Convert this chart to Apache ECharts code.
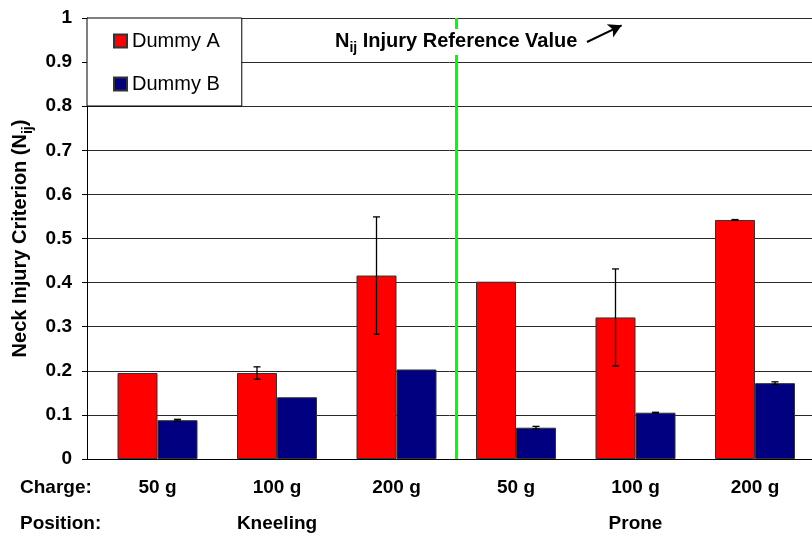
<!DOCTYPE html>
<html>
<head>
<meta charset="utf-8">
<script src="https://cdn.jsdelivr.net/npm/echarts@6/dist/echarts.min.js"></script>
<style>html,body{margin:0;padding:0;background:#fff;}#c{width:812px;height:537px;}</style>
</head>
<body>
<div id="c"></div>
<script>
// ---- data ----
const charges = ['50 g', '100 g', '200 g', '50 g', '100 g', '200 g'];
const positions = ['Kneeling', 'Prone'];
const groupSize = 3;
const dummyA = [0.195, 0.195, 0.416, 0.402, 0.321, 0.542];
const dummyAErr = [0, 0.014, 0.133, 0, 0.110, 0.001];
const dummyB = [0.088, 0.140, 0.203, 0.071, 0.105, 0.172];
const dummyBErr = [0.002, 0, 0, 0.003, 0.001, 0.003];
const yTicks = [0, 0.1, 0.2, 0.3, 0.4, 0.5, 0.6, 0.7, 0.8, 0.9, 1];

// ---- fonts ----
function hasFont(name) {
  const ctx = document.createElement('canvas').getContext('2d');
  const s = 'Charge: Position 50 g Kneeling';
  ctx.font = 'bold 40px monospace';
  const a = ctx.measureText(s).width;
  ctx.font = 'bold 40px "' + name + '", monospace';
  const b = ctx.measureText(s).width;
  return Math.abs(a - b) > 0.5;
}
const SANS = '"Liberation Sans", Arial, sans-serif';
const narrowOK = hasFont('Liberation Sans Narrow');
const XF = narrowOK ? '"Liberation Sans Narrow", ' + SANS : SANS;
const XS = narrowOK ? 23 : 19;

const idx = charges.map((_, i) => i);
const posIdx = positions.map((_, g) => g * groupSize + (groupSize - 1) / 2);
const HALF = 20; // half bar width in px

function errSeries(name, vals, errs, dir, extra) {
  return Object.assign({
    type: 'custom', name: name, z: 5, silent: true,
    data: vals.map((v, i) => [i, v - errs[i], v + errs[i]]).filter((d, i) => errs[i] > 0),
    encode: { x: 0, y: [1, 2] },
    renderItem: function (params, api) {
      const lo = api.coord([api.value(0), api.value(1)]);
      const hi = api.coord([api.value(0), api.value(2)]);
      const x = lo[0] + dir * HALF;
      const cw = 3.5;
      const st = { stroke: '#000', lineWidth: 1.3 };
      return { type: 'group', children: [
        { type: 'line', shape: { x1: x, y1: lo[1], x2: x, y2: hi[1] }, style: st },
        { type: 'line', shape: { x1: x - cw, y1: lo[1], x2: x + cw, y2: lo[1] }, style: st },
        { type: 'line', shape: { x1: x - cw, y1: hi[1], x2: x + cw, y2: hi[1] }, style: st }
      ] };
    }
  }, extra || {});
}

const xMin = -0.59, xMax = 5.477;
const chart = echarts.init(document.getElementById('c'), null, { renderer: 'canvas' });
const option = {
  animation: false,
  backgroundColor: '#fff',
  textStyle: { fontFamily: SANS },
  grid: { left: 87, right: 0, top: 18, bottom: 78 },
  title: {
    text: '{n|N}{s|ij}{n| Injury Reference Value}',
    left: 331, top: 25, padding: [2, 4, 0, 4], backgroundColor: '#fff',
    textStyle: { rich: {
      n: { fontFamily: SANS, fontWeight: 'bold', fontSize: 20, color: '#000', lineHeight: 28 },
      s: { fontFamily: SANS, fontWeight: 'bold', fontSize: 14, color: '#000', lineHeight: 28, verticalAlign: 'bottom' }
    } }
  },
  legend: {
    data: ['Dummy A', 'Dummy B'],
    orient: 'vertical', left: 87, top: 18,
    padding: [13, 22, 12, 26], itemGap: 23,
    itemWidth: 13, itemHeight: 13, icon: 'rect',
    borderColor: '#000', borderWidth: 1, backgroundColor: '#fff',
    textStyle: { fontFamily: SANS, fontSize: 20, color: '#000', padding: [0, 0, 0, 0] }
  },
  xAxis: [{
    type: 'value', min: xMin, max: xMax, position: 'bottom',
    axisLine: { show: true, onZero: false, lineStyle: { color: '#000', width: 1 } },
    axisTick: { show: false }, splitLine: { show: false },
    axisLabel: {
      customValues: idx, margin: 29, verticalAlign: 'middle',
      formatter: v => charges[Math.round(v)],
      fontFamily: XF, fontWeight: 'bold', fontSize: XS, color: '#000'
    }
  }, {
    type: 'value', min: xMin, max: xMax, position: 'bottom', offset: 36,
    axisLine: { show: false }, axisTick: { show: false }, splitLine: { show: false },
    axisLabel: {
      customValues: posIdx, margin: 29, verticalAlign: 'middle',
      formatter: v => positions[Math.round((v - (groupSize - 1) / 2) / groupSize)],
      fontFamily: XF, fontWeight: 'bold', fontSize: XS, color: '#000'
    }
  }],
  yAxis: {
    type: 'value', min: 0, max: 1, interval: 0.1,
    name: '{t|Neck Injury Criterion (N}{s|ij}{t|)}',
    nameLocation: 'middle', nameGap: 50, nameRotate: 90,
    nameTextStyle: { rich: {
      t: { fontFamily: SANS, fontWeight: 'bold', fontSize: 20, color: '#000', lineHeight: 28 },
      s: { fontFamily: SANS, fontWeight: 'bold', fontSize: 14, color: '#000', lineHeight: 28, verticalAlign: 'bottom' }
    } },
    axisLine: { show: true, onZero: false, lineStyle: { color: '#000', width: 1 } },
    axisTick: { show: true, length: 5, lineStyle: { color: '#000' } },
    splitLine: { show: true, lineStyle: { color: '#2a2a2a', width: 1 } },
    axisLabel: {
      margin: 15, fontFamily: SANS, fontWeight: 'bold', fontSize: 19, color: '#000',
      formatter: v => String(yTicks[Math.round(v * 10)])
    }
  },
  series: [{
    type: 'bar', name: 'Dummy A', barWidth: 40, barGap: '0%',
    data: dummyA.map((v, i) => [i, v]),
    itemStyle: { color: '#FF0000', borderColor: '#333', borderWidth: 1 }
  }, {
    type: 'bar', name: 'Dummy B', barWidth: 40, barGap: '0%',
    data: dummyB.map((v, i) => [i, v]),
    itemStyle: { color: '#000080', borderColor: '#333', borderWidth: 1 }
  },
  errSeries('errA', dummyA, dummyAErr, -1, {
    markLine: {
      silent: true, symbol: ['none', 'none'], label: { show: false },
      lineStyle: { color: '#00FF00', width: 3, type: 'solid' },
      data: [{ xAxis: groupSize - 0.5 }]
    }
  }),
  errSeries('errB', dummyB, dummyBErr, 1, {
    markLine: {
      silent: true, symbol: ['none', 'arrow'], symbolSize: [11, 13], label: { show: false },
      lineStyle: { color: '#000', width: 2, type: 'solid' },
      data: [[{ coord: [3.594, 0.9456] }, { coord: [3.884, 0.9834] }]]
    }
  })
  ],
  graphic: [
    { type: 'text', x: 20, y: 488, silent: true,
      style: { text: 'Charge:', fontFamily: XF, fontWeight: 'bold', fontSize: XS, fill: '#000', verticalAlign: 'middle' } },
    { type: 'text', x: 20, y: 524, silent: true,
      style: { text: 'Position:', fontFamily: XF, fontWeight: 'bold', fontSize: XS, fill: '#000', verticalAlign: 'middle' } }
  ]
};
chart.setOption(option);
</script>
</body>
</html>
